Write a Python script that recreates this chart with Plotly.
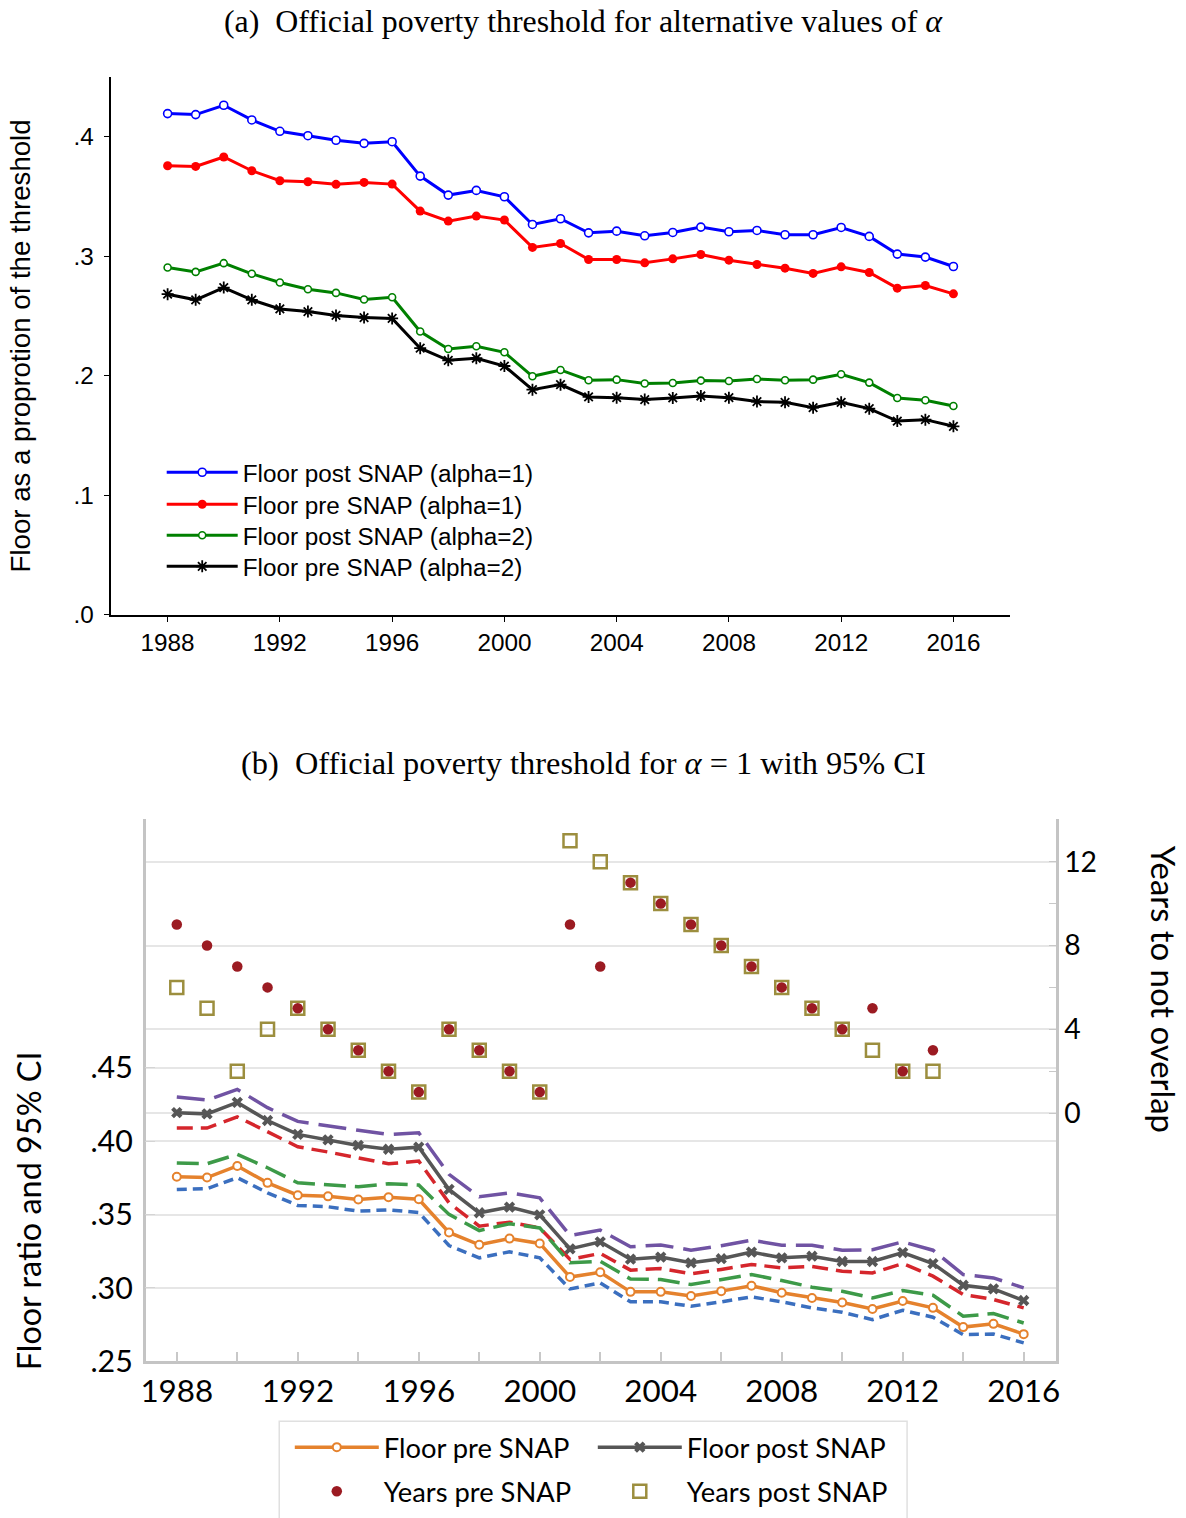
import plotly.graph_objects as go

years = list(range(1988, 2017))

# Panel (a): floor as a proportion of the threshold
post_a1 = [0.4194, 0.4186, 0.4264, 0.4141, 0.4046, 0.4009, 0.3971, 0.3945, 0.3959, 0.3671,
           0.3512, 0.3551, 0.3498, 0.3266, 0.3314, 0.3196, 0.3210, 0.3171, 0.3199, 0.3244,
           0.3205, 0.3216, 0.3180, 0.3180, 0.3241, 0.3166, 0.3018, 0.2993, 0.2914]
pre_a1 = [0.3758, 0.3752, 0.3831, 0.3716, 0.3632, 0.3624, 0.3602, 0.3618, 0.3604, 0.3378,
          0.3294, 0.3336, 0.3303, 0.3074, 0.3107, 0.2973, 0.2973, 0.2945, 0.2978, 0.3015,
          0.2967, 0.2931, 0.2900, 0.2856, 0.2911, 0.2864, 0.2733, 0.2755, 0.2685]
post_a2 = [0.2906, 0.2869, 0.2942, 0.2853, 0.2780, 0.2724, 0.2693, 0.2638, 0.2657, 0.2370,
           0.2224, 0.2246, 0.2196, 0.1995, 0.2048, 0.1962, 0.1967, 0.1934, 0.1939, 0.1959,
           0.1956, 0.1972, 0.1962, 0.1967, 0.2012, 0.1942, 0.1813, 0.1794, 0.1746]
pre_a2 = [0.2682, 0.2635, 0.2738, 0.2635, 0.2559, 0.2537, 0.2504, 0.2487, 0.2479, 0.2230,
          0.2129, 0.2146, 0.2081, 0.1883, 0.1925, 0.1822, 0.1816, 0.1800, 0.1814, 0.1830,
          0.1816, 0.1783, 0.1777, 0.1732, 0.1777, 0.1724, 0.1620, 0.1632, 0.1576]

# Panel (b): 95% CI bounds (alpha = 1)
post_upper = [0.4301, 0.4280, 0.4353, 0.4228, 0.4135, 0.4103, 0.4074, 0.4046, 0.4057, 0.3774,
              0.3621, 0.3648, 0.3614, 0.3357, 0.3394, 0.3280, 0.3293, 0.3257, 0.3287, 0.3325,
              0.3291, 0.3291, 0.3257, 0.3260, 0.3314, 0.3257, 0.3091, 0.3068, 0.3000]
post_lower = [0.4089, 0.4089, 0.4166, 0.4064, 0.3962, 0.3926, 0.3883, 0.3846, 0.3864, 0.3580,
              0.3421, 0.3448, 0.3409, 0.3194, 0.3235, 0.3121, 0.3132, 0.3096, 0.3126, 0.3160,
              0.3137, 0.3146, 0.3114, 0.3102, 0.3166, 0.3080, 0.2955, 0.2921, 0.2864]
pre_upper = [0.3851, 0.3846, 0.3910, 0.3819, 0.3716, 0.3705, 0.3689, 0.3710, 0.3701, 0.3501,
             0.3391, 0.3437, 0.3409, 0.3171, 0.3182, 0.3061, 0.3057, 0.3023, 0.3057, 0.3091,
             0.3050, 0.3005, 0.2977, 0.2932, 0.2982, 0.2950, 0.2807, 0.2825, 0.2761]
pre_lower = [0.3671, 0.3676, 0.3751, 0.3648, 0.3562, 0.3553, 0.3523, 0.3532, 0.3514, 0.3289,
             0.3205, 0.3246, 0.3205, 0.2993, 0.3034, 0.2905, 0.2905, 0.2875, 0.2905, 0.2939,
             0.2905, 0.2864, 0.2834, 0.2784, 0.2848, 0.2800, 0.2682, 0.2686, 0.2625]

# Years to not overlap
years_pts = list(range(1988, 2014))
years_pre = [9, 8, 7, 6, 5, 4, 3, 2, 1, 4, 3, 2, 1, 9, 7, 11, 10, 9, 8, 7, 6, 5, 4, 5, 2, 3]
years_post = [6, 5, 2, 4, 5, 4, 3, 2, 1, 4, 3, 2, 1, 13, 12, 11, 10, 9, 8, 7, 6, 5, 4, 3, 2, 2]

a_xticks = [1988, 1992, 1996, 2000, 2004, 2008, 2012, 2016]
a_yticks = [0.0, 0.1, 0.2, 0.3, 0.4]
a_yticktext = [".0", ".1", ".2", ".3", ".4"]
b_yticks = [0.25, 0.30, 0.35, 0.40, 0.45]
b_yticktext = [".25", ".30", ".35", ".40", ".45"]
b_rticks = [0, 4, 8, 12]

ARIAL = "Liberation Sans, Arial, sans-serif"
SERIF = "Liberation Serif, Times New Roman, serif"
CAL = "Lato, Open Sans, sans-serif"

W, H = 1200, 1536
S, OX = 0.988, 7.0
K = 1 / S


def px(x):
    return ((x - OX) / S) / W


def py(y):
    return 1 - (y / S) / H


fig = go.Figure()

# ---------- Panel (a) ----------
fig.add_trace(go.Scatter(x=years, y=post_a1, mode="lines+markers", name="Floor post SNAP (alpha=1)",
                         line=dict(color="#0000ff", width=3),
                         marker=dict(symbol="circle", size=8, color="white", line=dict(color="#0000ff", width=1.6)),
                         xaxis="x", yaxis="y", legend="legend"))
fig.add_trace(go.Scatter(x=years, y=pre_a1, mode="lines+markers", name="Floor pre SNAP (alpha=1)",
                         line=dict(color="#ff0000", width=3),
                         marker=dict(symbol="circle", size=9, color="#ff0000"),
                         xaxis="x", yaxis="y", legend="legend2"))
fig.add_trace(go.Scatter(x=years, y=post_a2, mode="lines+markers", name="Floor post SNAP (alpha=2)",
                         line=dict(color="#008000", width=3),
                         marker=dict(symbol="circle", size=7, color="white", line=dict(color="#008000", width=1.6)),
                         xaxis="x", yaxis="y", legend="legend3"))
fig.add_trace(go.Scatter(x=years, y=pre_a2, mode="lines+markers", name="Floor pre SNAP (alpha=2)",
                         line=dict(color="#000000", width=3),
                         marker=dict(symbol="asterisk-open", size=10, color="#000000", line=dict(color="#000000", width=1.8)),
                         xaxis="x", yaxis="y", legend="legend4"))

# ---------- Panel (b) ----------
fig.add_trace(go.Scatter(x=years, y=post_upper, mode="lines", showlegend=False,
                         line=dict(color="#7053a3", width=3.5, dash="28px,10px"), xaxis="x2", yaxis="y2"))
fig.add_trace(go.Scatter(x=years, y=post_lower, mode="lines", showlegend=False,
                         line=dict(color="#d5262c", width=3.5, dash="16px,8px"), xaxis="x2", yaxis="y2"))
fig.add_trace(go.Scatter(x=years, y=pre_upper, mode="lines", showlegend=False,
                         line=dict(color="#3d9a48", width=3.5, dash="22px,9px"), xaxis="x2", yaxis="y2"))
fig.add_trace(go.Scatter(x=years, y=pre_lower, mode="lines", showlegend=False,
                         line=dict(color="#3b6fbf", width=3.5, dash="10px,6px"), xaxis="x2", yaxis="y2"))
fig.add_trace(go.Scatter(x=years, y=post_a1, mode="lines+markers", name="Floor post SNAP",
                         line=dict(color="#565656", width=3.5),
                         marker=dict(symbol="x", size=10, color="#565656"),
                         xaxis="x2", yaxis="y2", legend="legend5", legendrank=2))
fig.add_trace(go.Scatter(x=years, y=pre_a1, mode="lines+markers", name="Floor pre SNAP",
                         line=dict(color="#e5822d", width=3.5),
                         marker=dict(symbol="circle", size=8, color="white", line=dict(color="#e5822d", width=2)),
                         xaxis="x2", yaxis="y2", legend="legend5", legendrank=1))
fig.add_trace(go.Scatter(x=years_pts, y=years_post, mode="markers", name="Years post SNAP",
                         marker=dict(symbol="square-open", size=13, color="#9c8e3e", line=dict(color="#9c8e3e", width=2.5)),
                         xaxis="x2", yaxis="y3", legend="legend6", legendrank=2))
fig.add_trace(go.Scatter(x=years_pts, y=years_pre, mode="markers", name="Years pre SNAP",
                         marker=dict(symbol="circle", size=10.5, color="#9b1b22"),
                         xaxis="x2", yaxis="y3", legend="legend6", legendrank=1))


def leg_a(yc):
    return dict(x=px(163), y=py(yc), xanchor="left", yanchor="middle", orientation="v",
                font=dict(family=ARIAL, size=24 * K), bgcolor="rgba(0,0,0,0)", itemwidth=71)


def leg_b(yc):
    return dict(x=px(290.5), y=py(yc), xanchor="left", yanchor="middle", orientation="h",
                font=dict(family=CAL, size=27 * K), bgcolor="rgba(0,0,0,0)", entrywidth=204, itemwidth=84)


fig.update_layout(
    width=W, height=H,
    margin=dict(l=0, r=0, t=0, b=0),
    paper_bgcolor="white", plot_bgcolor="white",
    font=dict(family=ARIAL, color="black"),
    xaxis=dict(domain=[px(113), px(1007)], anchor="y", range=[1986, 2018],
               tickvals=a_xticks, ticks="outside", ticklen=6, tickcolor="black",
               showline=True, linecolor="black", linewidth=1.5, showgrid=False, zeroline=False,
               tickfont=dict(family=ARIAL, size=24 * K)),
    yaxis=dict(domain=[py(614), py(77)], anchor="x", range=[0, 0.45],
               tickvals=a_yticks, ticktext=a_yticktext, ticks="outside", ticklen=6, tickcolor="black",
               ticklabelstandoff=5,
               showline=True, linecolor="black", linewidth=1.5, showgrid=False, zeroline=False,
               tickfont=dict(family=ARIAL, size=24 * K)),
    xaxis2=dict(domain=[px(147), px(1053)], anchor="y2", range=[1986.97, 2017.06],
                tickvals=a_xticks, ticks="inside", ticklen=10, tickcolor="#c8c8c8", tickwidth=1.5,
                minor=dict(dtick=2, tick0=1988, ticks="inside", ticklen=10, tickcolor="#c8c8c8", tickwidth=1.5),
                showline=True, linecolor="#c4c4c4", linewidth=2.5, showgrid=False, zeroline=False,
                tickfont=dict(family=CAL, size=31 * K)),
    yaxis2=dict(domain=[py(1360), py(818)], anchor="x2", range=[0.25, 0.6197],
                tickvals=b_yticks, ticktext=b_yticktext, ticks="inside", ticklen=10, tickcolor="#d4d4d4",
                ticklabelstandoff=4,
                showline=True, linecolor="#c4c4c4", linewidth=2.5, showgrid=True, gridcolor="#e6e6e6",
                gridwidth=1.5, zeroline=False, tickfont=dict(family=CAL, size=30 * K)),
    yaxis3=dict(overlaying="y2", side="right", anchor="x2", range=[-11.85, 14.05],
                tickvals=b_rticks, ticks="inside", ticklen=7, tickcolor="#c8c8c8",
                minor=dict(tickvals=[2, 6, 10], ticks="inside", ticklen=7, tickcolor="#c8c8c8"),
                showline=True, linecolor="#c4c4c4", linewidth=2.5, showgrid=True, gridcolor="#e6e6e6",
                gridwidth=1.5, zeroline=False, tickfont=dict(family=CAL, size=28 * K)),
    legend=leg_a(472),
    legend2=leg_a(504),
    legend3=leg_a(535),
    legend4=leg_a(566),
    legend5=leg_b(1446),
    legend6=leg_b(1490),
    shapes=[dict(type="rect", xref="paper", yref="paper", x0=px(280), x1=px(905),
                 y0=0.0, y1=py(1420), line=dict(color="#e0e0e0", width=1.5),
                 fillcolor="rgba(0,0,0,0)", layer="below")],
    annotations=[
        dict(text="(a)\u00a0\u00a0Official poverty threshold for alternative values of <i>α</i>",
             x=px(583), y=py(21), xref="paper", yref="paper", showarrow=False,
             xanchor="center", yanchor="middle", font=dict(family=SERIF, size=31.5 * K)),
        dict(text="(b)\u00a0\u00a0Official poverty threshold for <i>α</i> = 1 with 95% CI",
             x=px(583), y=py(762), xref="paper", yref="paper", showarrow=False,
             xanchor="center", yanchor="middle", font=dict(family=SERIF, size=32 * K)),
        dict(text="Floor as a proprotion of the threshold", textangle=-90,
             x=px(22), y=py(346), xref="paper", yref="paper", showarrow=False,
             xanchor="center", yanchor="middle", font=dict(family=ARIAL, size=27.3 * K)),
        dict(text="Floor ratio and 95% CI", textangle=-90,
             x=px(30), y=py(1210), xref="paper", yref="paper", showarrow=False,
             xanchor="center", yanchor="middle", font=dict(family=CAL, size=32 * K)),
        dict(text="Years to not overlap", textangle=90,
             x=px(1160), y=py(988), xref="paper", yref="paper", showarrow=False,
             xanchor="center", yanchor="middle", font=dict(family=CAL, size=32.5 * K)),
    ],
)

page_fix = (
    "document.documentElement.style.margin='0';"
    "document.documentElement.style.overflow='hidden';"
    "document.body.style.margin='0';"
    "document.body.style.overflow='hidden';"
    "var gd=document.getElementById('{plot_id}');"
    "var pe=gd.parentElement;"
    "pe.style.width='1200px';pe.style.height='1536px';pe.style.overflow='hidden';"
)

fig.write_html("out.html", post_script=page_fix, config=dict(displayModeBar=False))
